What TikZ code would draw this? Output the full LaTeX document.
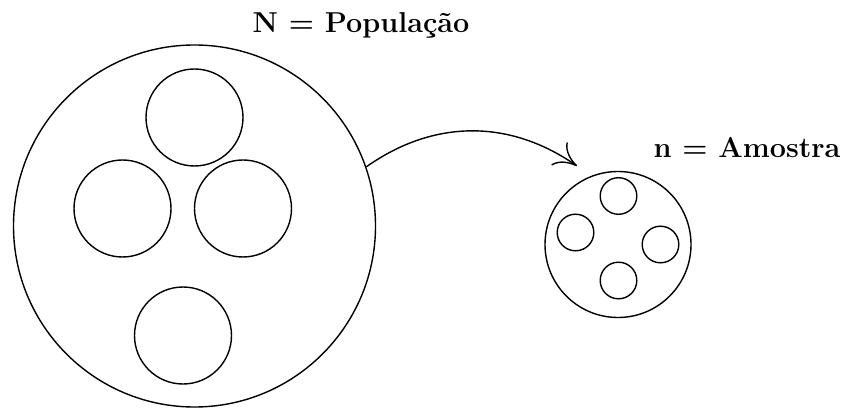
\documentclass[tikz,border=0pt]{standalone}
\usetikzlibrary{arrows.meta}
\begin{document}
\begin{tikzpicture}[x=0.5pt,y=0.5pt,
  ring/.style={draw,circle,inner sep=0pt,line width=0.7pt},
  lbl/.style={font=\Large\bfseries\boldmath,anchor=base,inner sep=0pt}]
\useasboundingbox (0,0) rectangle (845,407);
\node[ring,minimum size=181pt] (big) at (194.5,181) {};
\node[ring,minimum size=48.5pt] (b1) at (194.5,289.5) {};
\node[ring,minimum size=48.5pt] (b2) at (122.5,198.5) {};
\node[ring,minimum size=48.5pt] (b3) at (243,198.5) {};
\node[ring,minimum size=48.5pt] (b4) at (183,71.5) {};
\node[ring,minimum size=73pt] (small) at (618,162.5) {};
\node[ring,minimum size=18.3pt] (s1) at (618.5,211) {};
\node[ring,minimum size=18.3pt] (s2) at (575.5,174.5) {};
\node[ring,minimum size=18.3pt] (s3) at (660.5,162.5) {};
\node[ring,minimum size=18.3pt] (s4) at (618.5,126.5) {};
\node[lbl] (tN) at (361,374) {N $=$ População};
\node[lbl] (tn) at (747,249) {n $=$ Amostra};
\coordinate (tip) at (577,241);
\draw[line width=0.7pt,-{Computer Modern Rightarrow[length=11pt,width=14pt]}] (big.19.7) to[bend left=35] (tip);
\end{tikzpicture}
\end{document}
